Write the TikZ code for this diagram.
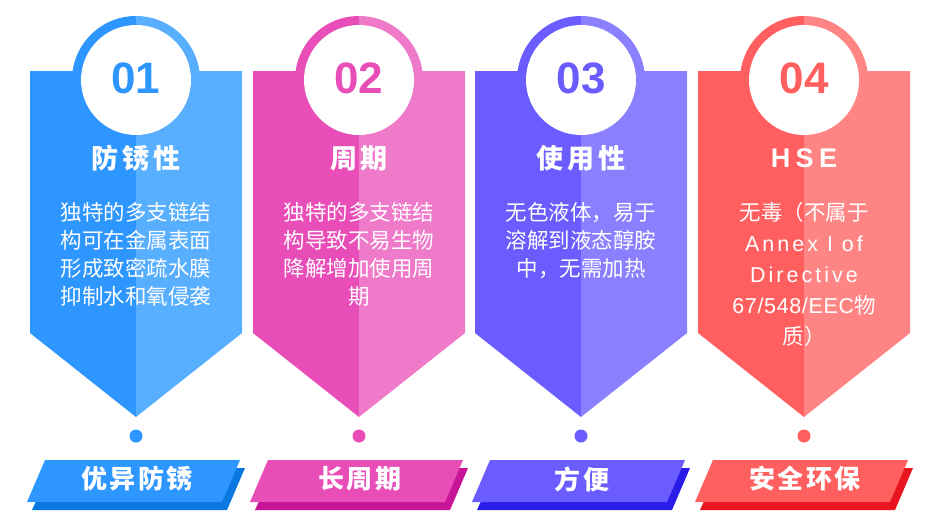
\documentclass[tikz,border=0pt]{standalone}
\usepackage{fontspec}
\setmainfont{Noto Sans CJK SC}
\newfontfamily\numfont{Liberation Sans}
\definecolor{aL}{HTML}{2E96FF}\definecolor{aR}{HTML}{58AEFF}\definecolor{aS}{HTML}{0A78E0}
\definecolor{bL}{HTML}{E84DB8}\definecolor{bR}{HTML}{F07ACA}\definecolor{bS}{HTML}{C81496}
\definecolor{cL}{HTML}{6A5CFF}\definecolor{cR}{HTML}{8A80FF}\definecolor{cS}{HTML}{2A1CE8}
\definecolor{dL}{HTML}{FF5F5F}\definecolor{dR}{HTML}{FF8585}\definecolor{dS}{HTML}{E8141E}
\tikzset{
 numtxt/.style={font=\numfont\bfseries\fontsize{44}{48}\selectfont},
 titletxt/.style={text=white,font=\bfseries\fontsize{27}{30}\selectfont\addfontfeature{LetterSpace=14}},
 bodytxt/.style={text=white,align=center},
 bantxt/.style={text=white,font=\bfseries\fontsize{26}{28}\selectfont\addfontfeature{LetterSpace=8}},
}
\begin{document}
\begin{tikzpicture}[x=1pt,y=-1pt]
\useasboundingbox (0,0) rectangle (934,525);
\foreach \i/\cx/\L/\R/\S/\num/\title/\body/\ban/\bs in {
 1/136/aL/aR/aS/01/防锈性/{独特的多支链结\\构可在金属表面\\形成致密疏水膜\\抑制水和氧侵袭}/优异防锈/28pt,
 2/359/bL/bR/bS/02/周期/{独特的多支链结\\构导致不易生物\\降解增加使用周\\期}/长周期/28pt,
 3/581/cL/cR/cS/03/使用性/{无色液体，易于\\溶解到液态醇胺\\中，无需加热}/方便/28pt,
 4/804/dL/dR/dS/04/{\numfont\bfseries\addfontfeature{LetterSpace=20}HSE}/{无毒（不属于\\{\numfont\addfontfeature{LetterSpace=14}Annex I of}\\{\numfont\addfontfeature{LetterSpace=14}Directive}\\{\numfont\addfontfeature{LetterSpace=3}67/548/EEC}物\\质）}/安全环保/31pt}{
 \fill[\L] (\cx-106,71) -- (\cx,71) -- (\cx,417) -- (\cx-106,333) -- cycle;
 \fill[\R] (\cx,71) -- (\cx+106,71) -- (\cx+106,333) -- (\cx,417) -- cycle;
 \begin{scope}\clip (\cx-70,0) rectangle (\cx,160); \fill[\L] (\cx,80) circle (64); \end{scope}
 \begin{scope}\clip (\cx,0) rectangle (\cx+70,160); \fill[\R] (\cx,80) circle (64); \end{scope}
 \fill[white] (\cx,80) circle (55);
 \node[numtxt,text=\L] (n\i) at (\cx,78) {\num};
 \node[titletxt] (t\i) at (\cx,158) {\title};
 \node[bodytxt,anchor=north,font=\fontsize{21.5}{\bs}\selectfont] (b\i) at (\cx,199) {\body};
 \fill[\L] (\cx,436) circle (6.5);
 \fill[\S] (\cx-85,468) -- (\cx+109,468) -- (\cx+91,510) -- (\cx-104,510) -- cycle;
 \fill[\L] (\cx-91,460) -- (\cx+104,460) -- (\cx+86,502) -- (\cx-109,502) -- cycle;
 \node[bantxt] (k\i) at (\cx+1,479) {\ban};
}
\end{tikzpicture}
\end{document}
